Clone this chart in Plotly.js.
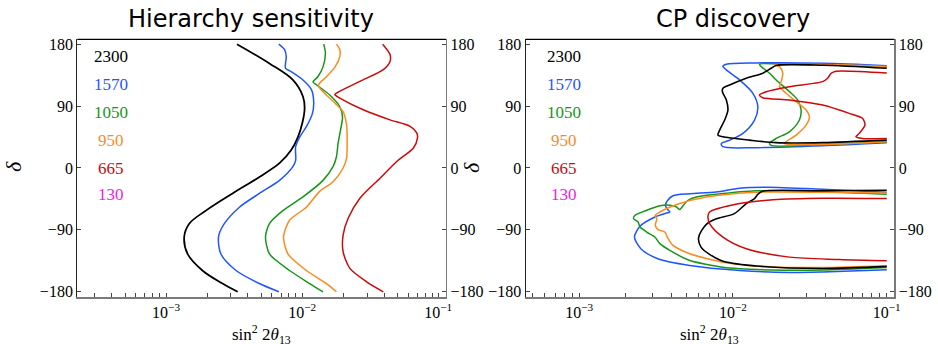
<!DOCTYPE html>
<html>
<head>
<meta charset="utf-8">
<script src="https://cdn.plot.ly/plotly-3.0.1.min.js"></script>
<style>html,body{margin:0;padding:0;background:#fff;}#chart{width:938px;height:348px;}</style>
</head>
<body>
<div id="chart"></div>
<script>
// ---------- labels ----------
const panelTitles = ["Hierarchy sensitivity", "CP discovery"];
const baselines = ["2300", "1570", "1050", "950", "665", "130"];
const baselineColors = ["#000000", "#1f55ff", "#17961a", "#ff8a1c", "#cc0a0a", "#ee1cee"];
const yTicks = [-180, -90, 0, 90, 180];
const xMajor = [1e-3, 1e-2, 1e-1];
const xMajorText = ["10<sup>\u22123</sup>", "10<sup>\u22122</sup>", "10<sup>\u22121</sup>"];
const xMinorLeft = [3e-4,4e-4,5e-4,6e-4,7e-4,8e-4,9e-4,2e-3,3e-3,4e-3,5e-3,6e-3,7e-3,8e-3,9e-3,2e-2,3e-2,4e-2,5e-2,6e-2,7e-2,8e-2,9e-2];
const xMinorRight = [5e-4,6e-4,7e-4,8e-4,9e-4,2e-3,3e-3,4e-3,5e-3,6e-3,7e-3,8e-3,9e-3,2e-2,3e-2,4e-2,5e-2,6e-2,7e-2,8e-2,9e-2];

// ---------- Hierarchy sensitivity (sin^2 2theta13, delta) ----------
const hs2300_x = [0.00332,0.00575,0.00855,0.01014,0.01043,0.01002,0.00931,0.00831,0.00682,0.00485,0.00308,0.00196,0.00148,0.00136,0.00144,0.00185,0.0026,0.00336];
const hs2300_d = [180,152,128,104,87,65,45,26,7,-13,-37,-62,-81,-100,-125,-149,-168,-180];
const hs1570_x = [0.00674,0.00743,0.00764,0.00755,0.00832,0.01014,0.0117,0.01216,0.01189,0.01074,0.00959,0.00896,0.00896,0.00855,0.00682,0.00485,0.00346,0.00268,0.00243,0.00253,0.00327,0.00485,0.00674];
const hs1570_d = [180,172,162,145,140,128,114,96,79,60,45,31,11,2,-18,-37,-57,-81,-100,-125,-149,-168,-180];
const hs1050_x = [0.01441,0.01483,0.01424,0.01308,0.01202,0.01273,0.01596,0.01891,0.0198,0.01914,0.01837,0.01786,0.01686,0.01424,0.01014,0.00721,0.00575,0.00538,0.00575,0.00808,0.01135,0.01424];
const hs1050_d = [180,167,147,133,125,121,106,89,74,55,36,16,2,-18,-42,-62,-81,-100,-125,-149,-168,-180];
const hs950_x = [0.01788,0.01891,0.01891,0.01745,0.01516,0.01315,0.01688,0.02,0.02119,0.02141,0.02119,0.02,0.01688,0.01346,0.01074,0.00808,0.0073,0.00786,0.01074,0.01509,0.01788];
const hs950_d = [180,172,162,147,133,120,97,82,63,43,14,0,-20,-34,-57,-76,-100,-125,-149,-168,-180];
const hs665_x = [0.03907,0.04424,0.04424,0.03947,0.02657,0.01788,0.01737,0.01891,0.0281,0.04424,0.06215,0.06965,0.07036,0.06572,0.04957,0.03733,0.02657,0.02178,0.02,0.02,0.02242,0.02977,0.03947];
const hs665_d = [180,165,155,143,126,109,106.6,101.7,84.7,70,60.5,50.7,43.4,29,9.5,-14.9,-44,-73,-97.5,-121.7,-146,-165.5,-180];

// ---------- CP discovery: upper lobes ----------
const cp1570u_x = [0.1,0.0383,0.01418,0.00906,0.00861,0.00906,0.01105,0.01348,0.01452,0.01382,0.01161,0.00952,0.00841,0.00861,0.01418,0.0383,0.1];
const cp1570u_d = [148.8,152.3,152.8,150.9,147.7,142.6,128,108.6,89,69.7,50.3,40.4,35.7,31,29.6,32.2,36.6];
const cp1050u_x = [0.1,0.0383,0.02008,0.01489,0.01535,0.01729,0.01911,0.02331,0.02637,0.02775,0.02705,0.02331,0.01911,0.01729,0.01773,0.0383,0.1];
const cp1050u_d = [147,150.6,151.3,150.9,147,137.8,128,111,98.8,84.3,69.7,52.6,43,35.7,32.8,34,38];
const cp950u_x = [0.1,0.0383,0.01863,0.02008,0.02109,0.02059,0.02008,0.02219,0.02576,0.0299,0.03142,0.0299,0.02576,0.02163,0.0383,0.1];
const cp950u_d = [147.7,150.3,150.3,147.4,137.8,125.5,118.2,108.6,96.4,84.3,74.5,62.4,47.8,35.7,34.3,38.3];
const cp2300u_x = [0.1,0.0383,0.01911,0.01773,0.01564,0.01221,0.00952,0.00861,0.00854,0.00906,0.00928,0.00884,0.0082,0.00799,0.00861,0.01283,0.01911,0.0383,0.1];
const cp2300u_d = [145,149.4,149.1,145,137.8,130.5,120.7,115.9,111,98.8,84.3,69.7,55.1,47.8,45.3,40.5,36.9,36.9,40.5];
const cp665u_x = [0.1,0.04678,0.04343,0.04127,0.0383,0.02331,0.01646,0.01489,0.01564,0.02331,0.0383,0.05705,0.06961,0.07215,0.06624,0.06303,0.06961,0.1];
const cp665u_d = [138.2,140.7,137.5,130.5,125.5,118.2,110.9,106.1,102.2,98.8,91.5,79.4,72.2,62.4,50.3,45.3,43,42.7];

// ---------- CP discovery: lower lobes ----------
const cp1570l_x = [0.1,0.0383,0.01679,0.01105,0.00778,0.00524,0.00408,0.00377,0.00364,0.00375,0.00389,0.00371,0.00311,0.00249,0.00229,0.00252,0.00325,0.00524,0.01105,0.02331,0.0383,0.1];
const cp1570l_d = [-35.3,-30.9,-28,-29.4,-34.8,-37.5,-40.4,-46.9,-54.2,-60,-64,-65.5,-71.3,-84.8,-100.4,-117.3,-131.9,-141.7,-149,-151.9,-151.2,-148];
const cp1050l_x = [0.1,0.0383,0.01418,0.0078,0.00579,0.00511,0.00476,0.00451,0.0043,0.00389,0.00335,0.00275,0.00231,0.00226,0.00242,0.00249,0.00275,0.00311,0.00335,0.00389,0.00524,0.00861,0.01816,0.0383,0.1];
const cp1050l_d = [-38.2,-34.5,-33.1,-38.2,-42.1,-46.9,-54.2,-60.5,-56.7,-54.2,-55,-61.5,-68.8,-73.6,-78.6,-85.9,-93.1,-100.4,-110,-119.8,-134.4,-144.2,-148.3,-148.3,-144.6];
const cp950l_x = [0.1,0.0383,0.01418,0.00672,0.00451,0.00335,0.00313,0.0032,0.00313,0.00326,0.00361,0.00375,0.00408,0.00524,0.00861,0.01816,0.0383,0.1];
const cp950l_d = [-36.3,-35.3,-35.3,-42.1,-51.7,-64,-68.8,-73.9,-83.4,-89.7,-93.1,-100.9,-112.5,-124.6,-136.9,-143.9,-144.6,-142.4];
const cp2300l_x = [0.1,0.0383,0.01558,0.01452,0.01382,0.01221,0.01021,0.0078,0.00672,0.00599,0.0062,0.00836,0.01418,0.0383,0.1];
const cp2300l_d = [-32.4,-33.1,-33.8,-38.2,-44.5,-51.7,-66.3,-73.9,-81.9,-100.4,-115,-134.4,-142.4,-146.1,-143.1];
const cp665l_x = [0.1,0.0383,0.01816,0.01105,0.00706,0.00689,0.00706,0.00861,0.01221,0.02331,0.04914,0.1];
const cp665l_d = [-44.5,-44,-46.2,-51.7,-64,-69.5,-80.9,-100.4,-117.3,-129.6,-133,-134.8];

// ---------- build ----------
const W = 938, H = 348;
const C = {};
baselines.forEach((b, i) => C[b] = baselineColors[i]);

function curve(x, d, col, xa, ya, w, sm, op) {
  return {type: 'scatter', mode: 'lines', x: x, y: d, xaxis: xa, yaxis: ya,
    line: {color: col, width: w || 1.5, shape: 'spline', smoothing: sm === undefined ? 0.8 : sm},
    opacity: op === undefined ? 1 : op,
    hoverinfo: 'skip', showlegend: false};
}

const traces = [
  curve(hs2300_x, hs2300_d, C["2300"], 'x', 'y', 1.8, 1.0),
  curve(hs1570_x, hs1570_d, C["1570"], 'x', 'y', 1.5, 0.8),
  curve(hs1050_x, hs1050_d, C["1050"], 'x', 'y', 1.5, 0.7),
  curve(hs950_x, hs950_d, C["950"], 'x', 'y', 1.5, 0.7),
  curve(hs665_x, hs665_d, C["665"], 'x', 'y', 1.5, 0.75),
  curve(cp1570u_x, cp1570u_d, C["1570"], 'x2', 'y2', 1.5, 0.85),
  curve(cp1050u_x, cp1050u_d, C["1050"], 'x2', 'y2', 1.5, 0.85),
  curve(cp950u_x, cp950u_d, C["950"], 'x2', 'y2', 1.5, 0.8),
  curve(cp2300u_x, cp2300u_d, C["2300"], 'x2', 'y2', 1.6, 0.8),
  curve(cp665u_x, cp665u_d, C["665"], 'x2', 'y2', 1.5, 0.7),
  curve(cp1570l_x, cp1570l_d, C["1570"], 'x2', 'y2', 1.5, 0.8),
  curve(cp1050l_x, cp1050l_d, C["1050"], 'x2', 'y2', 1.5, 0.6),
  curve(cp950l_x, cp950l_d, C["950"], 'x2', 'y2', 1.5, 0.7),
  curve(cp2300l_x, cp2300l_d, C["2300"], 'x2', 'y2', 1.6, 0.85),
  curve(cp665l_x, cp665l_d, C["665"], 'x2', 'y2', 1.5, 0.85),
  // transparent copies so the right-hand delta axes (overlaying) are drawn
  curve(hs2300_x, hs2300_d, C["2300"], 'x', 'y3', 1, 0.8, 0),
  curve(cp2300u_x, cp2300u_d, C["2300"], 'x2', 'y4', 1, 0.8, 0)
];

// geometry (pixels)
const L1 = 77.3, R1 = 446, L2 = 525.7, R2 = 894.3, T = 39.3, B = 297.3;
const xd1 = [L1 / W, R1 / W], xd2 = [L2 / W, R2 / W];
const yd = [1 - B / H, 1 - T / H];
const yRange = [-188, 187.1];

const tickFont = {family: 'Liberation Serif, Times New Roman, serif', size: 16, color: '#000'};

function xAxis(dom, range, minor, anchor) {
  return {type: 'log', domain: dom, range: range, anchor: anchor,
    tickvals: xMajor.concat(minor),
    ticktext: xMajorText.concat(minor.map(() => '')),
    ticks: 'inside', ticklen: 4, tickwidth: 1, tickcolor: '#444',
    showline: true, linecolor: '#7a7a7a', linewidth: 1.2, mirror: false,
    showgrid: false, zeroline: false, tickfont: tickFont, fixedrange: true};
}
function yAxis(anchor, side, overlay, lc) {
  const a = {domain: yd, range: yRange, anchor: anchor, side: side,
    tickvals: yTicks, ticks: 'inside', ticklen: 4, tickwidth: 1, tickcolor: '#444',
    showline: true, linecolor: lc, linewidth: 1.2, showgrid: false, zeroline: false,
    tickfont: tickFont, fixedrange: true};
  if (overlay) a.overlaying = overlay;
  return a;
}

const layout = {
  width: W, height: H,
  margin: {l: 0, r: 0, t: 0, b: 0, pad: 0},
  paper_bgcolor: '#fff', plot_bgcolor: 'rgba(0,0,0,0)',
  showlegend: false,
  xaxis: xAxis(xd1, [-3.652, -0.943], xMinorLeft, 'y'),
  xaxis2: xAxis(xd2, [-3.347, -0.951], xMinorRight, 'y2'),
  yaxis: yAxis('x', 'left', null, '#222'),
  yaxis2: yAxis('x2', 'left', null, '#222'),
  yaxis3: yAxis('x', 'right', 'y', '#7a7a7a'),
  yaxis4: yAxis('x2', 'right', 'y2', '#7a7a7a'),
  shapes: [
    {type: 'line', xref: 'paper', yref: 'paper', x0: xd1[0], x1: xd1[1], y0: yd[1], y1: yd[1], line: {color: '#000', width: 1.2}},
    {type: 'line', xref: 'paper', yref: 'paper', x0: xd2[0], x1: xd2[1], y0: yd[1], y1: yd[1], line: {color: '#000', width: 1.2}}
  ],
  annotations: []
};

function ann(text, px, py, font, extra) {
  const a = Object.assign({text: text, xref: 'paper', yref: 'paper', x: px / W, y: 1 - py / H,
    xanchor: 'center', yanchor: 'middle', showarrow: false, font: font}, extra || {});
  layout.annotations.push(a);
}

const titleFont = {family: 'DejaVu Sans, sans-serif', size: 24, color: '#000'};
ann(panelTitles[0], 251, 19, titleFont);
ann(panelTitles[1], 732.7, 19, titleFont);

const labFont = {family: 'Liberation Serif, Times New Roman, serif', size: 17, color: '#000'};
const xlab = 'sin<sup>2</sup> 2<i>\u03b8</i><sub>13</sub>';
ann(xlab, 261, 334.5, labFont);
ann(xlab, 709.7, 334.5, labFont);

const deltaFont = {family: 'Liberation Serif, Times New Roman, serif', size: 22, color: '#000'};
ann('<i>\u03b4</i>', 14, 167, deltaFont, {textangle: -90});
ann('<i>\u03b4</i>', 471, 168, deltaFont, {textangle: -90});

const rowY = [57, 85, 112.5, 140, 168.5, 194.5];
baselines.forEach((b, i) => {
  const f = {family: 'Liberation Serif, Times New Roman, serif', size: 17, color: baselineColors[i]};
  ann(b, 111, rowY[i], f);
  ann(b, 563.5, rowY[i], f);
});

Plotly.newPlot('chart', traces, layout, {staticPlot: true, displayModeBar: false});
</script>
</body>
</html>
